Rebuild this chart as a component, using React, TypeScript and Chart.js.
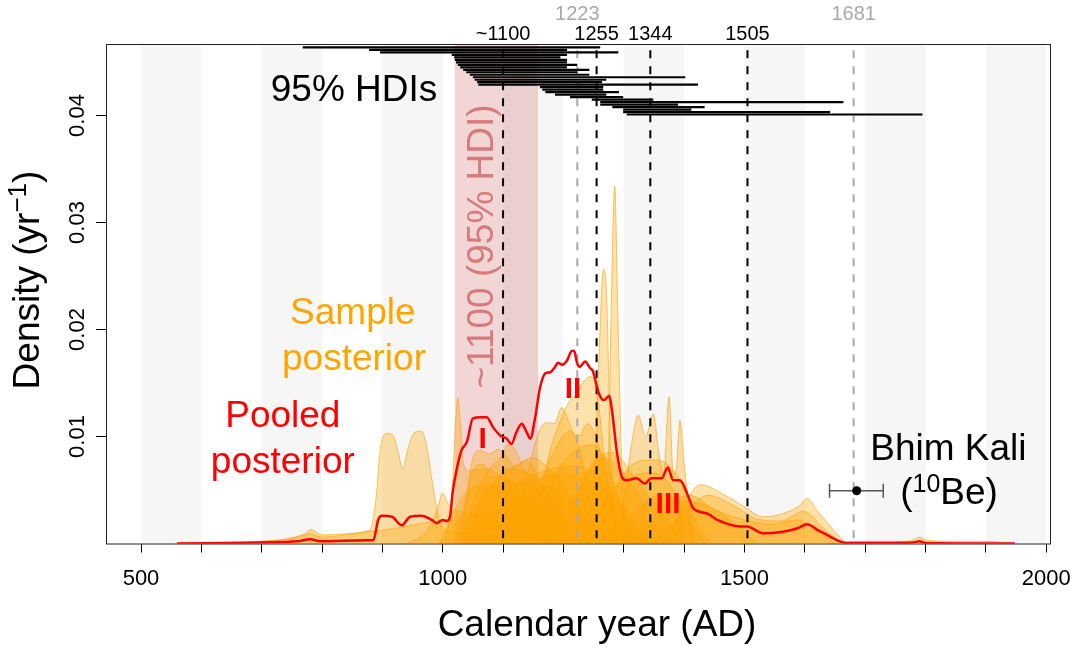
import React, { useEffect, useRef } from "react";
import { Chart, registerables } from "chart.js";

Chart.register(...registerables);

// ---------- axes ----------
const X_MIN = 442;
const X_MAX = 2008;
const Y_MIN = 0;
const Y_MAX = 0.04668;
const X_TICKS = [500, 600, 700, 800, 900, 1000, 1100, 1200, 1300, 1400, 1500, 1600, 1700, 1800, 1900, 2000];
const X_TICK_LABELS = [500, 1000, 1500, 2000];
const Y_TICKS = [0.01, 0.02, 0.03, 0.04];
const Y_TICK_LABELS = ["0.01", "0.02", "0.03", "0.04"];
const X_TITLE = "Calendar year (AD)";

// ---------- background century shading ----------
const SHADE_STARTS = [500, 700, 900, 1100, 1300, 1500, 1700, 1900];
const SHADE_WIDTH = 100;
const HDI_BAND = [1020, 1158];

// ---------- sample posteriors (year, density) ----------
const SAMPLE_YEARS: number[][] = [
  [640, 700, 740, 770, 782, 800, 840, 875, 882, 890, 896, 902, 910, 918, 926, 934, 942, 954, 965, 973, 982, 990, 996, 1010, 1040, 1100, 1200, 1290],
  [940, 975, 990, 1000, 1008, 1016, 1030, 1060, 1120, 1180],
  [995, 1008, 1016, 1021, 1025, 1029, 1034, 1045, 1070, 1100, 1140, 1180, 1220],
  [1020, 1038, 1050, 1062, 1078, 1092, 1105, 1120, 1138, 1155, 1175, 1200, 1230],
  [1030, 1055, 1075, 1095, 1108, 1120, 1135, 1150, 1175, 1210],
  [1030, 1045, 1065, 1085, 1110, 1140, 1170, 1200, 1240],
  [1035, 1065, 1095, 1125, 1150, 1172, 1195, 1225, 1260],
  [1035, 1070, 1110, 1150, 1190, 1230, 1265],
  [1110, 1140, 1160, 1172, 1185, 1197, 1210, 1230, 1255],
  [1150, 1175, 1195, 1210, 1222, 1234, 1245, 1256, 1268, 1290],
  [1140, 1165, 1190, 1210, 1225, 1240, 1258, 1278, 1300],
  [1150, 1185, 1215, 1245, 1270, 1292, 1320],
  [1240, 1252, 1260, 1266, 1271, 1278, 1290],
  [1266, 1274, 1280, 1285, 1290, 1298, 1310],
  [1290, 1305, 1315, 1324, 1336, 1349, 1358, 1366, 1375, 1382, 1387, 1393, 1400, 1415],
  [1255, 1285, 1315, 1345, 1375, 1400, 1420, 1445],
  [1240, 1275, 1305, 1340, 1370, 1400, 1435],
  [1370, 1395, 1427, 1465, 1498, 1531, 1564, 1590, 1604, 1620, 1647, 1668],
  [1350, 1400, 1440, 1480, 1520, 1560, 1598, 1630, 1660],
  [1320, 1370, 1410, 1450, 1500, 1545, 1585, 1615, 1650],
  [1640, 1690, 1760, 1778, 1790, 1802, 1850, 1900, 1948],
  [600, 700, 760, 780, 800, 860, 920, 980, 1030, 1070],
  [1060, 1110, 1170, 1215, 1255, 1295, 1340],
  [1170, 1215, 1248, 1280, 1320, 1360, 1400],
  [995, 1035, 1075, 1115, 1155, 1200],
  [1195, 1235, 1268, 1300, 1330, 1365],
  [1080, 1120, 1160, 1200, 1240, 1280, 1320, 1360],
  [1280, 1320, 1360, 1400, 1440, 1480, 1520],
];
const SAMPLE_DENSITY: number[][] = [
  [0, 0.0002, 0.0004, 0.0009, 0.0013, 0.0008, 0.0009, 0.0012, 0.0016, 0.0045, 0.0085, 0.0101, 0.0103, 0.0101, 0.0086, 0.0069, 0.0088, 0.0104, 0.0105, 0.0092, 0.006, 0.0033, 0.0018, 0.0012, 0.001, 0.0007, 0.0003, 0],
  [0, 0.0012, 0.003, 0.0047, 0.0038, 0.0032, 0.003, 0.0025, 0.0012, 0],
  [0, 0.0012, 0.0055, 0.011, 0.0136, 0.0115, 0.0075, 0.0068, 0.007, 0.0062, 0.0045, 0.002, 0],
  [0, 0.004, 0.008, 0.0087, 0.0084, 0.0088, 0.0082, 0.0072, 0.0078, 0.0065, 0.004, 0.0015, 0],
  [0, 0.0045, 0.0068, 0.008, 0.0092, 0.0088, 0.0068, 0.0058, 0.003, 0],
  [0, 0.006, 0.0074, 0.0062, 0.007, 0.0066, 0.005, 0.0022, 0],
  [0, 0.004, 0.0063, 0.0074, 0.008, 0.0072, 0.0058, 0.003, 0],
  [0, 0.005, 0.0058, 0.0055, 0.005, 0.003, 0],
  [0, 0.0065, 0.0105, 0.0113, 0.0112, 0.0127, 0.0112, 0.008, 0],
  [0, 0.008, 0.0115, 0.0133, 0.014, 0.0152, 0.0156, 0.014, 0.008, 0],
  [0, 0.006, 0.0092, 0.0105, 0.01, 0.0112, 0.0092, 0.004, 0],
  [0, 0.0062, 0.0085, 0.0092, 0.0078, 0.004, 0],
  [0, 0.007, 0.019, 0.0256, 0.024, 0.009, 0],
  [0, 0.007, 0.024, 0.0334, 0.022, 0.005, 0],
  [0, 0.006, 0.01, 0.012, 0.01, 0.0121, 0.0085, 0.0065, 0.0137, 0.0065, 0.007, 0.0115, 0.0075, 0],
  [0, 0.005, 0.0074, 0.0078, 0.0073, 0.005, 0.002, 0],
  [0, 0.0045, 0.006, 0.0066, 0.006, 0.003, 0],
  [0, 0.003, 0.0055, 0.0046, 0.0035, 0.0025, 0.0028, 0.0035, 0.0042, 0.0031, 0.0013, 0],
  [0, 0.003, 0.0045, 0.0036, 0.0023, 0.0021, 0.003, 0.0015, 0],
  [0, 0.0035, 0.0045, 0.0032, 0.0022, 0.0018, 0.0022, 0.0014, 0],
  [0, 0.0002, 0.0002, 0.0003, 0.0006, 0.0003, 0.0002, 0.0002, 0],
  [0, 0.0002, 0.0006, 0.0009, 0.0006, 0.001, 0.0014, 0.002, 0.0022, 0],
  [0, 0.005, 0.0068, 0.0072, 0.0065, 0.004, 0],
  [0, 0.004, 0.0075, 0.0085, 0.006, 0.003, 0],
  [0, 0.0045, 0.0055, 0.005, 0.0035, 0],
  [0, 0.006, 0.008, 0.0066, 0.004, 0],
  [0, 0.004, 0.006, 0.0065, 0.006, 0.0045, 0.002, 0],
  [0, 0.003, 0.0045, 0.004, 0.0035, 0.002, 0],
];

// ---------- pooled posterior ----------
const POOLED_YEARS = [560, 700, 760, 780, 797, 874, 885, 893, 899, 916, 932, 946, 965, 982, 990, 1000, 1007, 1012, 1017, 1023, 1031, 1040, 1050, 1063, 1073, 1083, 1095, 1106, 1114, 1122, 1131, 1139, 1145, 1153, 1161, 1170, 1178, 1186, 1191, 1198, 1206, 1214, 1218, 1222, 1227, 1236, 1244, 1249, 1254, 1259, 1267, 1276, 1281, 1289, 1297, 1305, 1321, 1335, 1346, 1363, 1373, 1382, 1393, 1407, 1415, 1438, 1455, 1493, 1504, 1531, 1564, 1587, 1604, 1620, 1637, 1654, 1670, 1700, 1780, 1790, 1800, 1948];
const POOLED_DENSITY = [0, 0.0001, 0.0002, 0.0004, 0.0002, 0.0003, 0.0003, 0.0022, 0.0026, 0.0025, 0.0017, 0.0025, 0.0026, 0.0022, 0.0019, 0.0022, 0.0021, 0.0025, 0.005, 0.0069, 0.0087, 0.0095, 0.0117, 0.0118, 0.0118, 0.0109, 0.0101, 0.0098, 0.0093, 0.0104, 0.0112, 0.0104, 0.0098, 0.0117, 0.0145, 0.0159, 0.016, 0.0165, 0.0169, 0.0167, 0.0171, 0.018, 0.018, 0.017, 0.0165, 0.017, 0.0164, 0.0161, 0.015, 0.014, 0.0134, 0.0138, 0.0122, 0.0084, 0.0062, 0.0059, 0.0061, 0.0056, 0.0061, 0.0061, 0.0071, 0.0059, 0.0059, 0.0044, 0.0033, 0.0028, 0.0022, 0.0016, 0.0016, 0.00095, 0.0011, 0.0014, 0.0018, 0.0013, 0.0008, 0.0003, 0.00005, 0.00005, 0.0001, 0.0002, 0.00005, 0];

// ---------- 95% HDIs of the samples ----------
const HDI_START = [768, 878, 896, 1015, 1019, 1020, 1022, 1025, 1029, 1034, 1039, 1045, 1050, 1053, 1057, 1059, 1161, 1165, 1170, 1186, 1211, 1247, 1261, 1261, 1281, 1299, 1299, 1305];
const HDI_END = [1261, 1206, 1291, 1206, 1195, 1206, 1206, 1223, 1206, 1243, 1223, 1243, 1402, 1271, 1264, 1423, 1266, 1266, 1292, 1271, 1299, 1349, 1664, 1390, 1434, 1412, 1642, 1795];
const HDI_TOP = 0.04636;
const HDI_BOTTOM = 0.04009;

// ---------- event lines ----------
const EVENT_YEARS = [1100, 1255, 1344, 1505];
const EVENT_LABELS = ["~1100", "1255", "1344", "1505"];
const GREY_EVENT_YEARS = [1223, 1681];
const GREY_EVENT_LABELS = ["1223", "1681"];
const EVENT_LINE_TOP = 0.0461;

// ---------- Bhim Kali 10Be age ----------
const BHIM_YEAR = [1686];
const BHIM_RANGE = [1641, 1730];
const BHIM_DENSITY = [0.00493];

const FONT = "'Liberation Sans', Arial, Helvetica, sans-serif";

export default function App() {
  const ref = useRef<HTMLCanvasElement | null>(null);

  useEffect(() => {
    const canvas = ref.current;
    if (!canvas) return;

    const datasets: any[] = [];

    SAMPLE_YEARS.forEach((yrs, i) => {
      datasets.push({
        type: "line",
        data: yrs.map((x, j) => ({ x, y: SAMPLE_DENSITY[i][j] })),
        fill: "origin",
        backgroundColor: "rgba(255,165,0,0.33)",
        borderColor: "rgba(250,160,0,0.6)",
        borderWidth: 1,
        pointRadius: 0,
        cubicInterpolationMode: "monotone",
        order: 50,
      });
    });

    EVENT_YEARS.forEach((yr) => {
      datasets.push({
        type: "line",
        data: [
          { x: yr, y: EVENT_LINE_TOP },
          { x: yr, y: 0 },
        ],
        borderColor: "#000",
        borderWidth: 2,
        borderDash: [8, 8],
        pointRadius: 0,
        fill: false,
        order: 20,
      });
    });
    GREY_EVENT_YEARS.forEach((yr) => {
      datasets.push({
        type: "line",
        data: [
          { x: yr, y: EVENT_LINE_TOP },
          { x: yr, y: 0 },
        ],
        borderColor: "#a9a9a9",
        borderWidth: 2,
        borderDash: [8, 8],
        pointRadius: 0,
        fill: false,
        order: 21,
      });
    });

    datasets.push({
      type: "line",
      data: POOLED_YEARS.map((x, j) => ({ x, y: POOLED_DENSITY[j] })),
      borderColor: "#ff0000",
      borderWidth: 2.5,
      pointRadius: 0,
      fill: false,
      cubicInterpolationMode: "monotone",
      order: 10,
    });

    const n = HDI_START.length;
    HDI_START.forEach((s, i) => {
      const y = HDI_TOP - ((HDI_TOP - HDI_BOTTOM) * i) / (n - 1);
      datasets.push({
        type: "line",
        data: [
          { x: s, y },
          { x: HDI_END[i], y },
        ],
        borderColor: "#000",
        borderWidth: 2.2,
        borderCapStyle: "butt",
        pointRadius: 0,
        fill: false,
        order: 5,
      });
    });

    datasets.push({
      type: "line",
      data: [
        { x: BHIM_RANGE[0], y: BHIM_DENSITY[0] },
        { x: BHIM_RANGE[1], y: BHIM_DENSITY[0] },
      ],
      borderColor: "#555",
      borderWidth: 1.5,
      pointStyle: "line",
      pointRadius: 7,
      pointRotation: 90,
      pointBorderColor: "#555",
      pointBorderWidth: 1.5,
      fill: false,
      order: 3,
    });
    datasets.push({
      type: "line",
      data: [{ x: BHIM_YEAR[0], y: BHIM_DENSITY[0] }],
      showLine: false,
      pointRadius: 4.5,
      pointBackgroundColor: "#000",
      pointBorderColor: "#000",
      pointBorderWidth: 0,
      order: 2,
    });

    const bgPlugin = {
      id: "bgShade",
      beforeDatasetsDraw(chart: any) {
        const { ctx, chartArea: a, scales } = chart;
        const x = scales.x;
        ctx.save();
        ctx.beginPath();
        ctx.rect(a.left, a.top, a.right - a.left, a.bottom - a.top);
        ctx.clip();
        ctx.fillStyle = "#f6f6f6";
        SHADE_STARTS.forEach((s) => {
          const x0 = x.getPixelForValue(s);
          const x1 = x.getPixelForValue(s + SHADE_WIDTH);
          ctx.fillRect(x0, a.top, x1 - x0, a.bottom - a.top);
        });
        ctx.fillStyle = "rgba(205,92,92,0.25)";
        const p0 = x.getPixelForValue(HDI_BAND[0]);
        const p1 = x.getPixelForValue(HDI_BAND[1]);
        ctx.fillRect(p0, a.top, p1 - p0, a.bottom - a.top);
        ctx.restore();
      },
    };

    const drawSup = (
      ctx: CanvasRenderingContext2D,
      parts: { t: string; sup?: boolean }[],
      cx: number,
      by: number,
      size: number,
      supSize: number,
      rise: number
    ) => {
      let total = 0;
      parts.forEach((p) => {
        ctx.font = `${p.sup ? supSize : size}px ${FONT}`;
        total += ctx.measureText(p.t).width;
      });
      let xx = cx - total / 2;
      ctx.textAlign = "left";
      parts.forEach((p) => {
        ctx.font = `${p.sup ? supSize : size}px ${FONT}`;
        ctx.fillText(p.t, xx, p.sup ? by - rise : by);
        xx += ctx.measureText(p.t).width;
      });
    };

    const textPlugin = {
      id: "annotText",
      afterDraw(chart: any) {
        const { ctx, chartArea: a, scales } = chart;
        const x = scales.x;
        const y = scales.y;
        ctx.save();
        // plot box
        ctx.strokeStyle = "#222";
        ctx.lineWidth = 1;
        ctx.strokeRect(a.left + 0.5, a.top + 0.5, a.right - a.left - 1, a.bottom - a.top);

        ctx.textBaseline = "alphabetic";
        // x tick labels
        ctx.fillStyle = "#000";
        ctx.font = `22px ${FONT}`;
        ctx.textAlign = "center";
        X_TICK_LABELS.forEach((v) => {
          ctx.fillText(String(v), x.getPixelForValue(v), a.bottom + 41);
        });
        // y tick labels (rotated)
        Y_TICKS.forEach((v, i) => {
          ctx.save();
          ctx.translate(84, y.getPixelForValue(v));
          ctx.rotate(-Math.PI / 2);
          ctx.textAlign = "center";
          ctx.fillText(Y_TICK_LABELS[i], 0, 0);
          ctx.restore();
        });
        // axis titles
        ctx.font = `37px ${FONT}`;
        ctx.textAlign = "center";
        ctx.fillText(X_TITLE, 597, 636);
        ctx.save();
        ctx.translate(39, 280);
        ctx.rotate(-Math.PI / 2);
        drawSup(ctx, [{ t: "Density (yr" }, { t: "\u22121", sup: true }, { t: ")" }], 0, 0, 37, 26, 13);
        ctx.restore();

        // event labels
        ctx.font = `20px ${FONT}`;
        ctx.textAlign = "center";
        ctx.fillStyle = "#000";
        EVENT_YEARS.forEach((v, i) => {
          ctx.fillText(EVENT_LABELS[i], x.getPixelForValue(v), a.top - 4);
        });
        ctx.fillStyle = "#a9a9a9";
        GREY_EVENT_YEARS.forEach((v, i) => {
          ctx.fillText(GREY_EVENT_LABELS[i], x.getPixelForValue(v), a.top - 24);
        });

        // big annotations
        ctx.font = `37px ${FONT}`;
        ctx.textAlign = "center";
        ctx.fillStyle = "#000";
        ctx.fillText("95% HDIs", x.getPixelForValue(853), y.getPixelForValue(0.04131));
        ctx.fillStyle = "#ffa500";
        ctx.fillText("Sample", x.getPixelForValue(851), y.getPixelForValue(0.02047));
        ctx.fillText("posterior", x.getPixelForValue(853), y.getPixelForValue(0.01621));
        ctx.fillStyle = "#ff0000";
        ctx.fillText("Pooled", x.getPixelForValue(735), y.getPixelForValue(0.01093));
        ctx.fillText("posterior", x.getPixelForValue(735), y.getPixelForValue(0.00659));
        ctx.fillStyle = "#000";
        ctx.fillText("Bhim Kali", x.getPixelForValue(1838), y.getPixelForValue(0.0078));
        drawSup(
          ctx,
          [{ t: "(" }, { t: "10", sup: true }, { t: "Be)" }],
          x.getPixelForValue(1839),
          y.getPixelForValue(0.00369),
          37,
          25,
          12
        );

        // rotated HDI band label
        ctx.save();
        ctx.translate(x.getPixelForValue(1083.5), y.getPixelForValue(0.02776));
        ctx.rotate(-Math.PI / 2);
        ctx.font = `37px ${FONT}`;
        ctx.textAlign = "center";
        ctx.fillStyle = "rgba(205,92,92,0.75)";
        ctx.fillText("~1100 (95% HDI)", 0, 0);
        ctx.restore();

        // phase numerals
        ctx.font = `bold 30px ${FONT}`;
        ctx.fillStyle = "#ff0000";
        ctx.textAlign = "center";
        ctx.fillText("I", x.getPixelForValue(1066), y.getPixelForValue(0.00893));
        ctx.fillText("II", x.getPixelForValue(1216), y.getPixelForValue(0.0136));
        ctx.fillText("III", x.getPixelForValue(1373.5), y.getPixelForValue(0.00285));
        ctx.restore();
      },
    };

    const chart = new Chart(canvas, {
      type: "line",
      data: { datasets },
      options: {
        animation: false,
        responsive: false,
        devicePixelRatio: 1,
        events: [],
        layout: { padding: { top: 44, right: 23, bottom: 0, left: 0 } },
        plugins: { legend: { display: false }, tooltip: { enabled: false } },
        scales: {
          x: {
            type: "linear",
            min: X_MIN,
            max: X_MAX,
            afterBuildTicks: (s: any) => {
              s.ticks = X_TICKS.map((v) => ({ value: v }));
            },
            afterFit: (s: any) => {
              s.height = 103.5;
            },
            ticks: { display: false },
            grid: { drawOnChartArea: false, drawTicks: true, tickLength: 9, color: "#000", lineWidth: 1 },
            border: { display: false },
          },
          y: {
            type: "linear",
            min: Y_MIN,
            max: Y_MAX,
            afterBuildTicks: (s: any) => {
              s.ticks = Y_TICKS.map((v) => ({ value: v }));
            },
            afterFit: (s: any) => {
              s.width = 106;
            },
            ticks: { display: false },
            grid: { drawOnChartArea: false, drawTicks: true, tickLength: 10, color: "#000", lineWidth: 1 },
            border: { display: false },
          },
        },
      } as any,
      plugins: [bgPlugin, textPlugin],
    } as any);

    return () => chart.destroy();
  }, []);

  return (
    <div style={{ position: "fixed", left: 0, top: 0, width: 1074, height: 647, background: "#fff" }}>
      <canvas ref={ref} width={1074} height={647} style={{ width: 1074, height: 647, display: "block" }} />
    </div>
  );
}
